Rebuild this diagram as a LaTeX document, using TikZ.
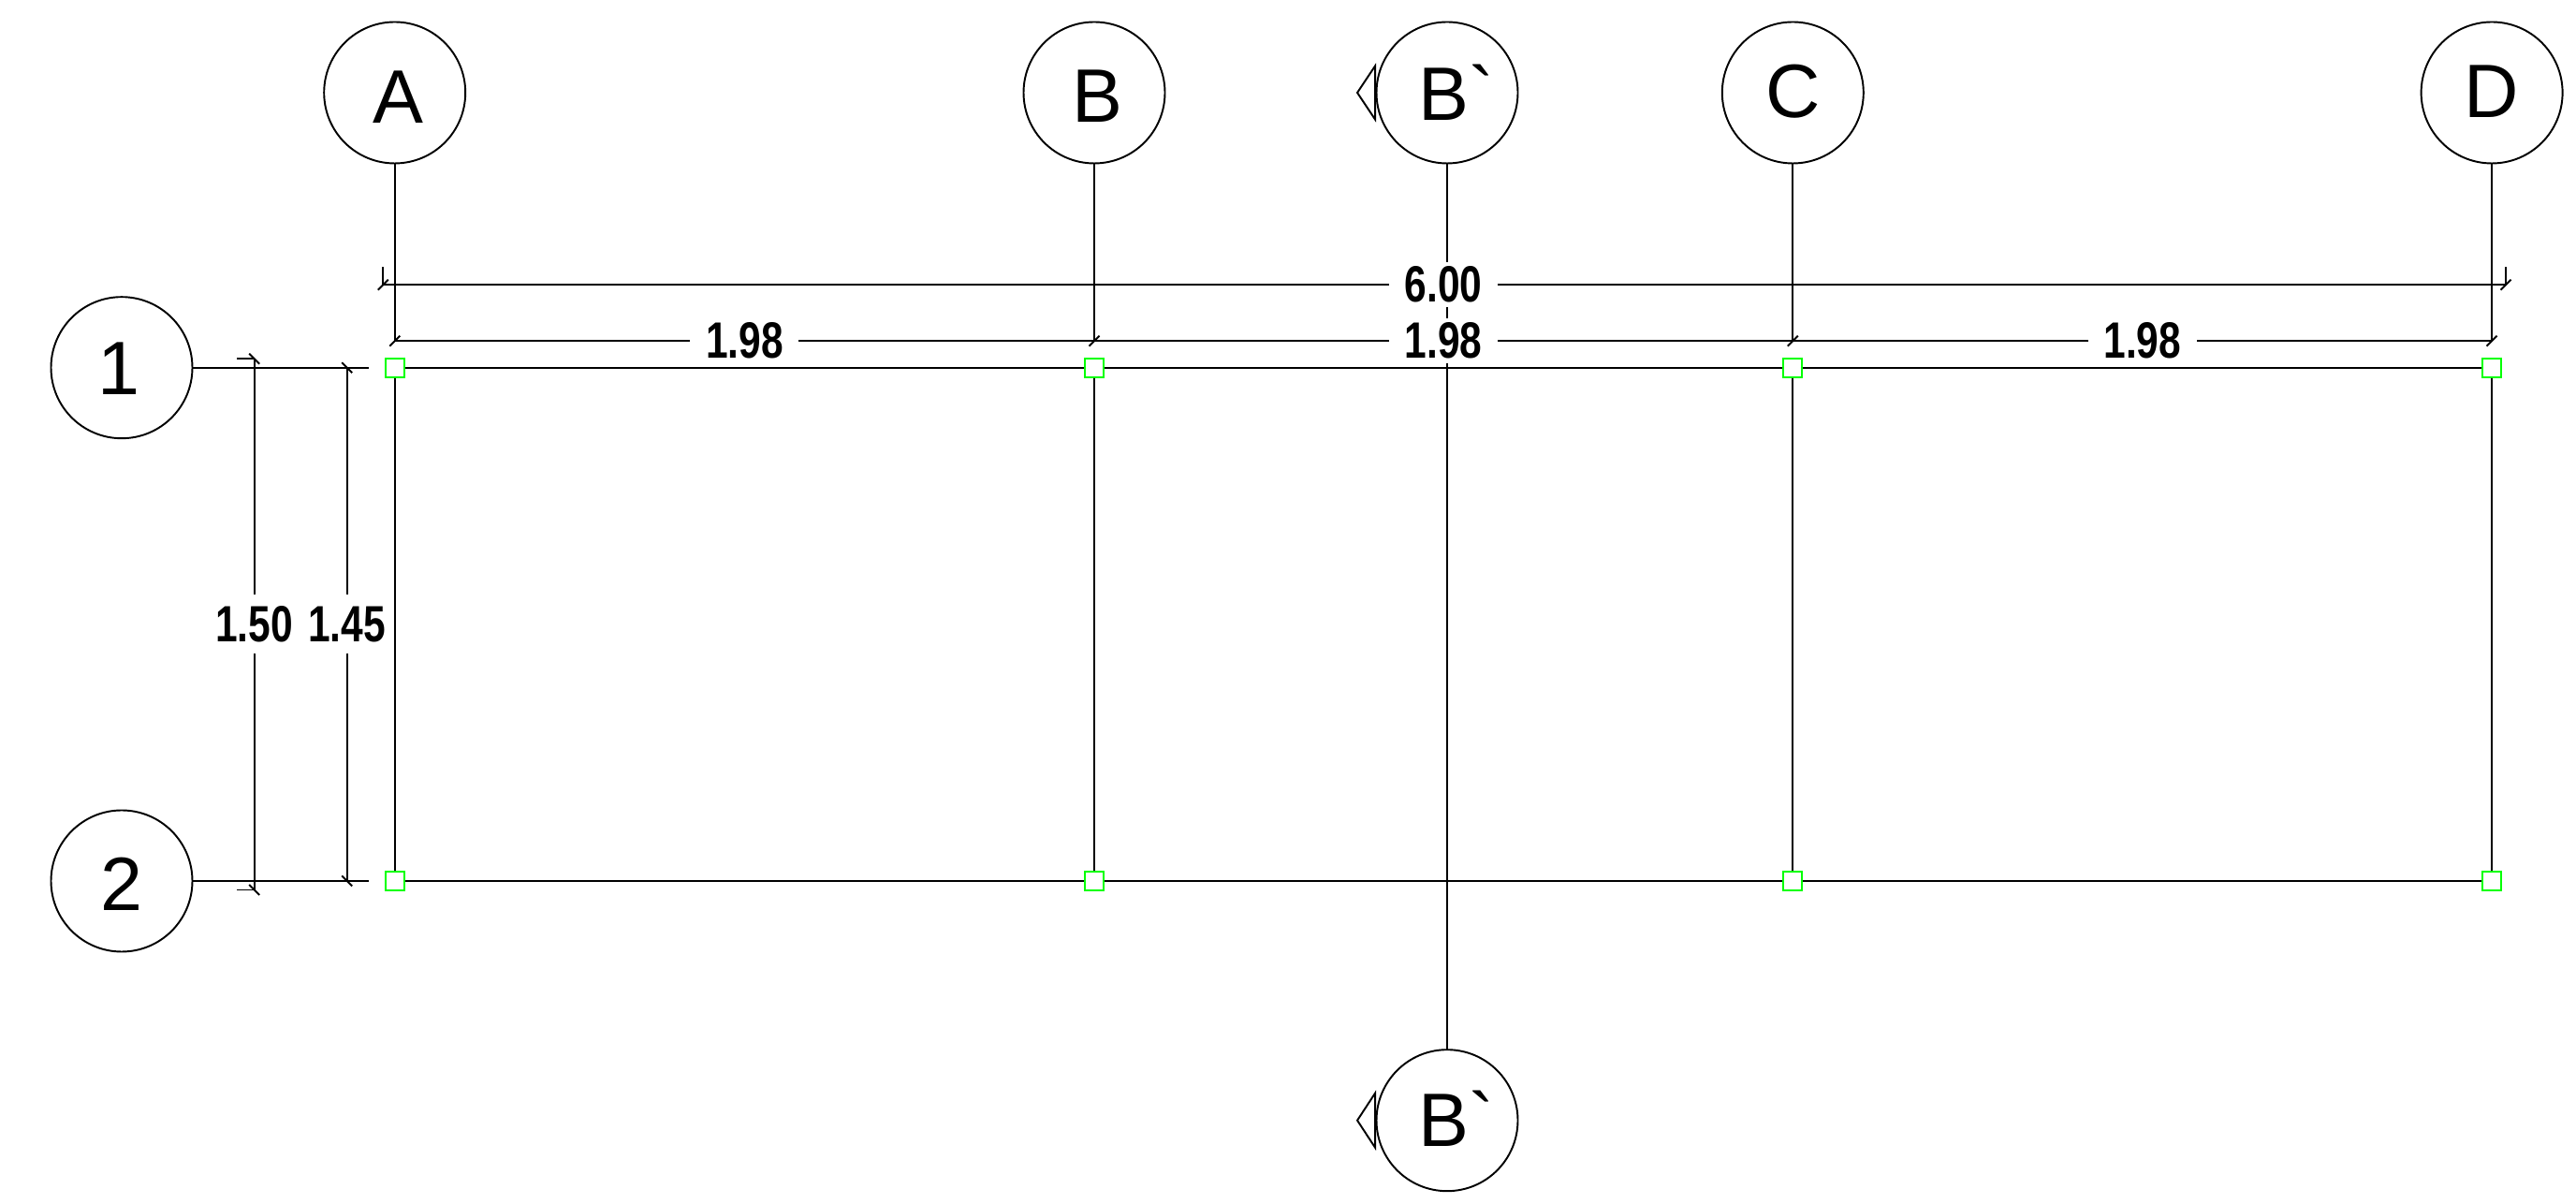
\documentclass[tikz,border=0pt]{standalone}
\usepackage{fontspec}
\usepackage{graphicx}
\usepackage{tikz}
\usetikzlibrary{positioning}
\newfontfamily\gridfont{Liberation Sans}
\definecolor{colgreen}{RGB}{0,255,0}
\tikzset{
  plan/.style={line width=1.1pt},
  bubble/.style={circle, draw, line width=1.1pt, fill=white, minimum size=3.02cm, inner sep=0pt, text depth=0pt, font=\gridfont\fontsize{46}{46}\selectfont},
  colmark/.style={rectangle, draw=colgreen, line width=1.1pt, fill=white, minimum size=0.4cm, inner sep=0pt},
  dimtext/.style={fill=white, inner xsep=0.04cm, inner ysep=0.1cm, font=\gridfont\bfseries\fontsize{31}{31}\selectfont},
  dimwide/.style={dimtext, minimum width=2.32cm},
  dimtall/.style={dimtext, minimum height=1.26cm}
}
\newcommand{\dimnum}[1]{\scalebox{0.78}[1]{#1}}
\begin{document}
\begin{tikzpicture}[on grid]
\useasboundingbox (0,0) rectangle (55.04,25.72);

% column marks
\node [colmark] (a1) at (8.434,17.866) {}; \node [colmark, right=14.946cm of a1] (b1) {}; \node [colmark, right=14.926cm of b1] (c1) {}; \node [colmark, right=14.936cm of c1] (d1) {};
\node [colmark, below=10.966cm of a1] (a2) {}; \node [colmark, right=14.946cm of a2] (b2) {}; \node [colmark, right=14.926cm of b2] (c2) {}; \node [colmark, right=14.936cm of c2] (d2) {};

% bubbles
\node [bubble, text height=1.308cm, above=5.874cm of a1] (A) {\hspace*{0.14cm}A}; \node [bubble, text height=1.26cm, above=5.874cm of b1] (B) {\hspace*{0.14cm}B}; \node [bubble, text height=1.068cm, above=5.874cm of c1] (C) {C}; \node [bubble, text height=1.068cm, above=5.874cm of d1] (D) {D};
\node [bubble, text height=1.14cm, left=5.834cm of a1] (r1) {1\hspace*{0.14cm}}; \node [bubble, text height=1.252cm, left=5.834cm of a2] (r2) {2};
\node [bubble, text height=1.172cm, right=7.54cm of B] (st) {\hspace*{0.4cm}B\symbol{96}};
\node [bubble, text height=1.104cm, below=5.114cm of b2, xshift=7.54cm] (sb) {\hspace*{0.4cm}B\symbol{96}};

% section cut and its arrows
\draw [plan] (st) -- (sb);
\draw [plan] (st.west) ++(-0.01,0.57) -- ++(0,-1.14) -- ++(-0.38,0.57) -- cycle;
\draw [plan] (sb.west) ++(-0.01,0.58) -- ++(0,-1.16) -- ++(-0.38,0.58) -- cycle;

% grid lines
\foreach \c in {a,b,c,d}{ \draw [plan] (\c1) -- (\c2); }
\draw [plan] (a1) -- (b1) -- (c1) -- (d1);
\draw [plan] (a2) -- (b2) -- (c2) -- (d2);
\coordinate [left=0.55cm of a1] (e1); \coordinate [left=0.55cm of a2] (e2);
\draw [plan] (r1) -- (e1);
\draw [plan] (r2) -- (e2);
\foreach \c in {a,b,c,d}{ \node [colmark] at (\c1) {}; \node [colmark] at (\c2) {}; }

% 1.98 dimension
\coordinate [above=0.57cm of a1] (ta); \coordinate [above=0.57cm of b1] (tb); \coordinate [above=0.57cm of c1] (tc); \coordinate [above=0.57cm of d1] (td);
\foreach \c/\t in {A/ta,B/tb,C/tc,D/td}{ \draw [plan] (\c) -- (\t); }
\draw [plan] (ta) -- (td);
\foreach \t in {ta,tb,tc,td}{ \draw [plan] (\t) ++(-0.11,-0.11) -- ++(0.22,0.22); }

% 6.00 dimension
\coordinate [above=1.77cm of a1, xshift=-0.25cm] (oa); \coordinate [above=1.77cm of d1, xshift=0.30cm] (od);
\draw [plan] (oa) -- (od);
\draw [plan] (oa) -- ++(0,0.38); \draw [plan] (od) -- ++(0,0.38);
\foreach \t in {oa,od}{ \draw [plan] (\t) ++(-0.11,-0.11) -- ++(0.22,0.22); }

% row dimensions
\coordinate [left=1.02cm of a1] (h1); \coordinate [left=1.02cm of a2] (h2);
\coordinate [left=3.0cm of a1, yshift=0.19cm] (k1); \coordinate [left=3.0cm of a2, yshift=-0.19cm] (k2);
\draw [plan] (h1) -- (h2); \draw [plan] (k1) -- (k2);
\draw [plan] (k1) -- ++(-0.38,0); \draw [plan] (k2) -- ++(-0.38,0);
\foreach \t in {h1,h2,k1,k2}{ \draw [plan] (\t) ++(-0.11,0.11) -- ++(0.22,-0.22); }

% dimension texts
\path (ta) -- node [dimwide] (l1) {\dimnum{1.98}} (tb);
\path (tb) -- node [dimwide] (l2) {\dimnum{1.98}} (tc);
\path (tc) -- node [dimwide] (l3) {\dimnum{1.98}} (td);
\node [dimwide, above=1.2cm of l2] (l4) {\dimnum{6.00}};
\path (k1) -- node [dimtall] (l5) {\dimnum{1.50}} (k2);
\path (h1) -- node [dimtall] (l6) {\dimnum{1.45}} (h2);
\end{tikzpicture}
\end{document}
